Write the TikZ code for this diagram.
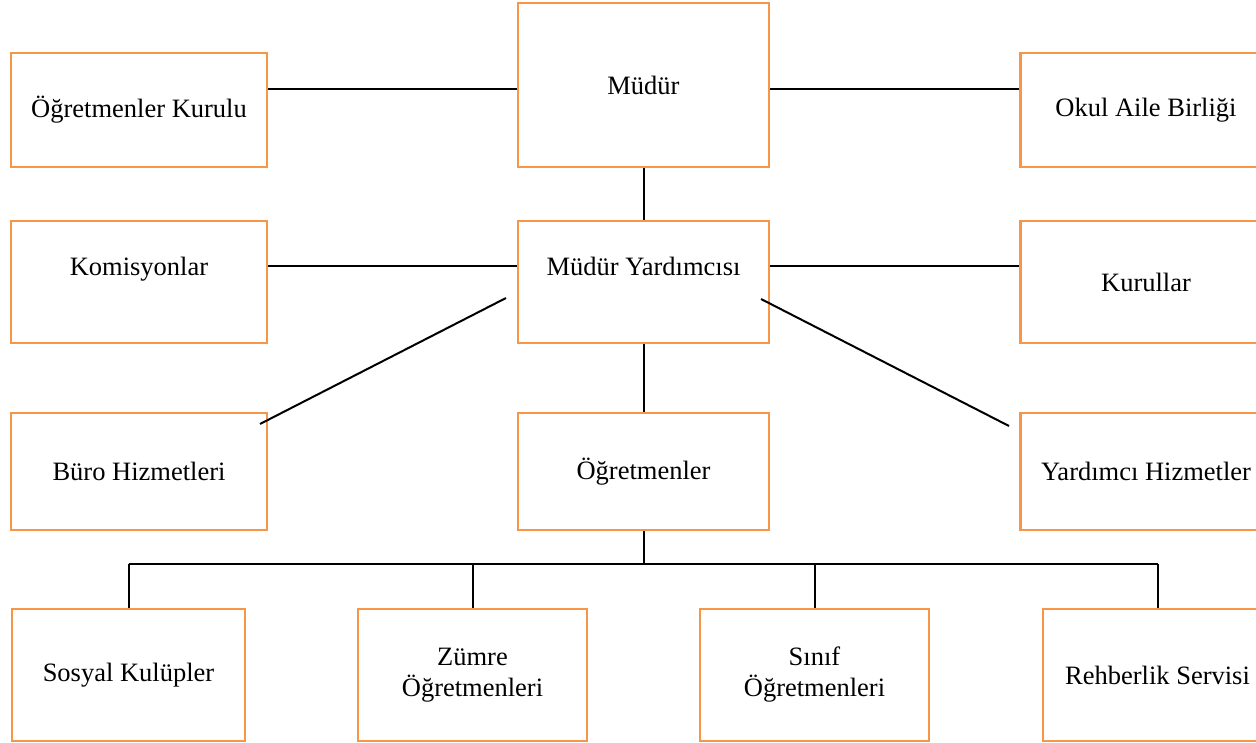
\documentclass[tikz,border=0pt]{standalone}
\usepackage{fontspec}
\setmainfont{Liberation Serif}
\definecolor{boxorange}{HTML}{F79646}
\tikzstyle{unit} = [rectangle, draw=boxorange, line width=2.5pt, align=center, inner sep=0pt, font=\fontsize{26.5}{31}\selectfont]
\tikzstyle{wide} = [unit, minimum width=251pt]
\tikzstyle{narrow} = [unit, minimum width=229pt, minimum height=132pt]
\tikzstyle{link} = [draw=black, line width=2pt]

\begin{document}
\begin{tikzpicture}[x=1pt, y=-1pt]
\useasboundingbox (0,0) rectangle (1256,743);
% first row
\node [wide, minimum width=256pt, minimum height=114pt] (OK) at (139,110) {Öğretmenler Kurulu};
\node [wide, minimum height=164pt] (M) at (643.5,85) {Müdür};
\node [wide, minimum height=114pt] (OAB) at (1146,110) {Okul Aile Birliği};
% second row
\node [wide, minimum width=256pt, minimum height=122pt] (K) at (139,282) {Komisyonlar\\~};
\node [wide, minimum height=122pt] (MY) at (643.5,282) {Müdür Yardımcısı\\~};
\node [wide, minimum height=122pt] (KR) at (1146,282) {Kurullar};
% third row
\node [wide, minimum width=256pt, minimum height=117pt] (BH) at (139,471.5) {Büro Hizmetleri};
\node [wide, minimum height=117pt] (O) at (643.5,471.5) {Öğretmenler};
\node [wide, minimum height=117pt] (YH) at (1146,471.5) {Yardımcı Hizmetler};
% bottom row
\node [narrow, minimum width=233pt] (SK) at (128.5,675) {Sosyal Kulüpler};
\node [narrow] (ZO) at (472.5,675) {Zümre\\Öğretmenleri};
\node [narrow] (SO) at (814.5,675) {Sınıf\\Öğretmenleri};
\node [narrow] (RS) at (1157.5,675) {Rehberlik Servisi};

\coordinate (ld1) at (506,298);
\coordinate (ld2) at (260,424);
\coordinate (rd1) at (761,299);
\coordinate (rd2) at (1009,426);

\draw [link] ([yshift=-3.7pt]M.west) -- ([yshift=-3.7pt]M.west -| OK.east);
\draw [link] ([yshift=-3.7pt]M.east) -- ([yshift=-3.7pt]M.east -| OAB.west);
\draw [link] ([yshift=16pt]MY.west) -- ([yshift=16pt]K.east);
\draw [link] ([yshift=16pt]MY.east) -- ([yshift=16pt]KR.west);
\draw [link] (M.south) -- (MY.north);
\draw [link] (MY.south) -- (O.north);
\draw [link] (ld1) -- (ld2);
\draw [link] (rd1) -- (rd2);
\draw [link] (O.south) -- ++(0,33) coordinate (bus);
\draw [link] (SK.north |- bus) -- (RS.north |- bus);
\foreach \n in {SK,ZO,SO,RS}
	\draw [link] (\n.north) -- (\n.north |- bus);
\end{tikzpicture}
\end{document}
